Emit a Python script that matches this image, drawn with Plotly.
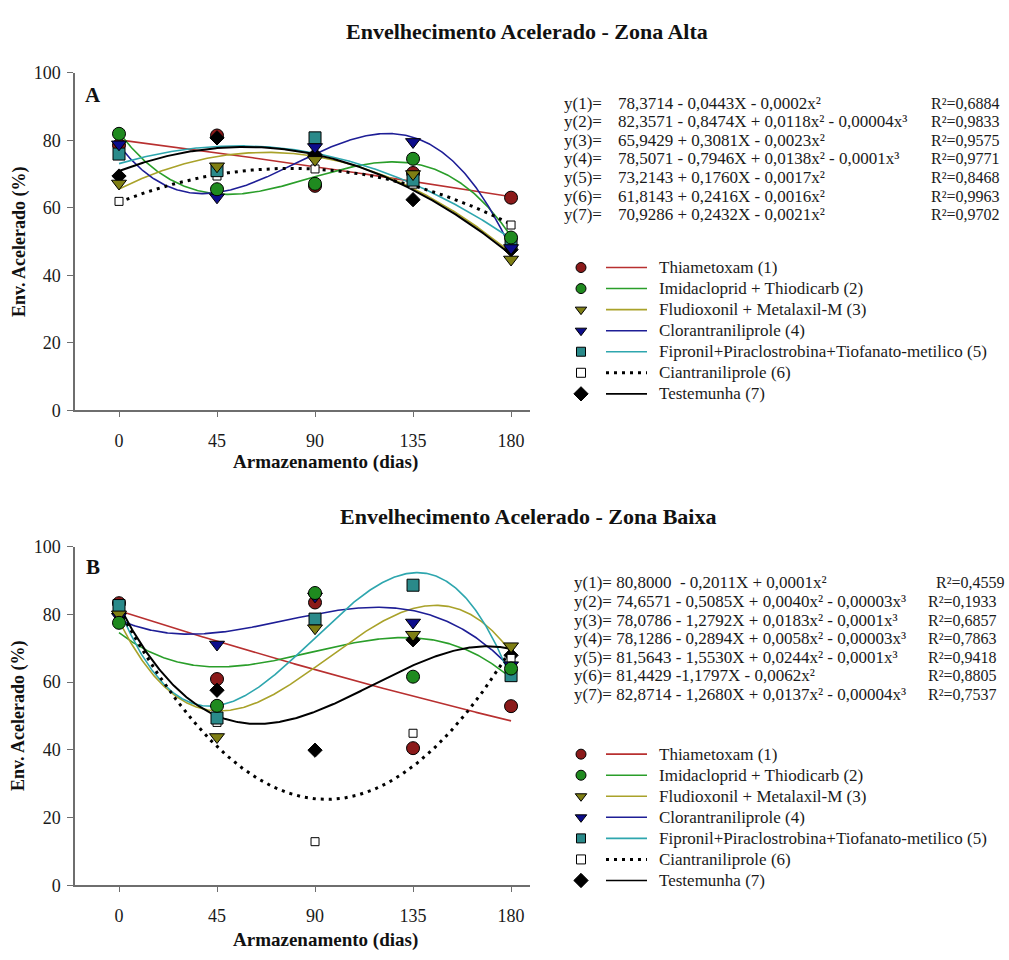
import numpy as np
import plotly.graph_objects as go

W, H = 1009, 960
FONT = "Liberation Serif"

# ---------------- data ----------------
X = [0, 45, 90, 135, 180]
x_ticks = [0, 45, 90, 135, 180]
y_ticks = [0, 20, 40, 60, 80, 100]

names = [
    "Thiametoxam (1)",
    "Imidacloprid + Thiodicarb (2)",
    "Fludioxonil + Metalaxil-M (3)",
    "Clorantraniliprole (4)",
    "Fipronil+Piraclostrobina+Tiofanato-metilico (5)",
    "Ciantraniliprole (6)",
    "Testemunha (7)",
]

# Zona Alta (A)
A1 = [78.5, 81.4, 66.5, 70.3, 63.0]
A2 = [81.9, 65.5, 67.1, 74.5, 51.2]
A3 = [67.2, 72.3, 74.2, 70.0, 44.7]
A4 = [78.8, 63.1, 78.0, 79.5, 48.1]
A5 = [75.9, 71.0, 80.7, 68.2, 49.6]
A6 = [61.9, 69.4, 71.5, 67.0, 54.9]
A7 = [69.4, 80.7, 75.7, 62.4, 47.6]
deg_A = [2, 3, 2, 3, 2, 2, 2]

# Zona Baixa (B)
B1 = [83.3, 60.9, 83.5, 40.5, 52.9]
B2 = [77.5, 53.0, 86.3, 61.6, 64.0]
B3 = [80.0, 43.8, 75.9, 74.0, 70.6]
B4 = [79.3, 71.1, 85.3, 77.6, 65.0]
B5 = [82.6, 49.4, 78.6, 88.6, 61.9]
B6 = [80.0, 48.1, 12.9, 44.9, 67.0]
B7 = [80.7, 57.6, 39.9, 72.5, 67.9]
deg_B = [2, 3, 3, 3, 3, 2, 3]

eq_A_lbl = ["y(1)=", "y(2)=", "y(3)=", "y(4)=", "y(5)=", "y(6)=", "y(7)="]
eq_A = [
    "78,3714 - 0,0443X - 0,0002x²",
    "82,3571 - 0,8474X + 0,0118x² - 0,00004x³",
    "65,9429 + 0,3081X - 0,0023x²",
    "78,5071 - 0,7946X + 0,0138x² - 0,0001x³",
    "73,2143 + 0,1760X - 0,0017x²",
    "61,8143 + 0,2416X - 0,0016x²",
    "70,9286 + 0,2432X - 0,0021x²",
]
r2_A = ["R²=0,6884", "R²=0,9833", "R²=0,9575", "R²=0,9771", "R²=0,8468", "R²=0,9963", "R²=0,9702"]

eq_B = [
    "y(1)= 80,8000\u00a0 - 0,2011X + 0,0001x²",
    "y(2)= 74,6571 - 0,5085X + 0,0040x² - 0,00003x³",
    "y(3)= 78,0786 - 1,2792X + 0,0183x² - 0,0001x³",
    "y(4)= 78,1286 - 0,2894X + 0,0058x² - 0,00003x³",
    "y(5)= 81,5643 - 1,5530X + 0,0244x² - 0,0001x³",
    "y(6)= 81,4429 -1,1797X - 0,0062x²",
    "y(7)= 82,8714 - 1,2680X + 0,0137x² - 0,00004x³",
]
r2_B = ["R²=0,4559", "R²=0,1933", "R²=0,6857", "R²=0,7863", "R²=0,9418", "R²=0,8805", "R²=0,7537"]

# ---------------- styles ----------------
fills = ["#8B1A1A", "#1F8A1F", "#7F7F14", "#0D0D8C", "#2A8A8A", "#FFFFFF", "#000000"]
lcols = ["#B83030", "#2A9E2A", "#A9A22A", "#1E1E96", "#2EA6AE", "#000000", "#000000"]
symbols = ["circle", "circle", "triangle-down", "triangle-down", "square", "square", "diamond"]
msize = [13, 13, 13, 13, 12, 8, 11]
lg_msize = [10, 10, 10, 10, 9, 9, 11]
draw_order = [0, 6, 5, 4, 3, 2, 1]

fig = go.Figure()

panels = [
    ("x", "y", [A1, A2, A3, A4, A5, A6, A7], deg_A),
    ("x2", "y2", [B1, B2, B3, B4, B5, B6, B7], deg_B),
]
xs = np.linspace(0, 180, 361)
for xa, ya, vals, degs in panels:
    for i, (v, d) in enumerate(zip(vals, degs)):
        coef = np.polyfit(X, v, d)
        ys = np.polyval(coef, xs)
        dash = "3px,5px" if i == 5 else "solid"
        width = 3 if i == 5 else (2 if i == 6 else 1.6)
        fig.add_trace(go.Scatter(x=xs, y=ys, mode="lines", xaxis=xa, yaxis=ya,
                                 line=dict(color=lcols[i], width=width, dash=dash),
                                 showlegend=False, hoverinfo="skip"))
    for i in draw_order:
        fig.add_trace(go.Scatter(x=X, y=vals[i], mode="markers", xaxis=xa, yaxis=ya,
                                 marker=dict(symbol=symbols[i], size=msize[i], color=fills[i],
                                             line=dict(color="#000000", width=1)),
                                 showlegend=False, name=names[i]))

# ---------------- legend glyphs (overlay pixel axis) ----------------
leg_rows = {"A": [263, 284.5, 306, 327.5, 349, 370.5, 392], "B": [760, 781.5, 803, 824.5, 846, 867.5, 889]}
shapes = []
annotations = []
for key, rows in leg_rows.items():
    for i, ry in enumerate(rows):
        fig.add_trace(go.Scatter(x=[581], y=[ry], mode="markers", xaxis="x3", yaxis="y3",
                                 marker=dict(symbol=symbols[i], size=lg_msize[i], color=fills[i],
                                             line=dict(color="#000000", width=1)),
                                 showlegend=False, hoverinfo="skip"))
        shapes.append(dict(type="line", xref="paper", yref="paper",
                           x0=606 / W, x1=647 / W, y0=1 - ry / H, y1=1 - ry / H,
                           line=dict(color=lcols[i], width=3 if i == 5 else 1.6,
                                     dash="3px,5px" if i == 5 else "solid")))
        annotations.append(dict(text=names[i], x=657 / W, y=1 - ry / H, xref="paper", yref="paper",
                                xanchor="left", yanchor="middle", showarrow=False,
                                font=dict(family=FONT, size=17, color="#1a1a1a")))

# ---------------- equations ----------------
eqA_rows = [95, 114, 133, 152, 171, 190, 209]
for i, ry in enumerate(eqA_rows):
    for txt_, px, fs in ((eq_A_lbl[i], 562, 17), (eq_A[i], 616, 17), (r2_A[i], 929, 16)):
        annotations.append(dict(text=txt_, x=px / W, y=1 - ry / H, xref="paper", yref="paper",
                                xanchor="left", yanchor="middle", showarrow=False,
                                font=dict(family=FONT, size=fs, color="#1a1a1a")))
eqB_rows = [585, 604, 623, 642, 661, 680, 699]
for i, ry in enumerate(eqB_rows):
    annotations.append(dict(text=eq_B[i], x=572 / W, y=1 - ry / H, xref="paper", yref="paper",
                            xanchor="left", yanchor="middle", showarrow=False,
                            font=dict(family=FONT, size=17, color="#1a1a1a")))
    annotations.append(dict(text=r2_B[i], x=(934 if i == 0 else 926) / W, y=1 - ry / H,
                            xref="paper", yref="paper", xanchor="left", yanchor="middle",
                            showarrow=False, font=dict(family=FONT, size=16, color="#1a1a1a")))

# ---------------- titles ----------------
def txt(t, px, py, size, angle=0):
    annotations.append(dict(text=t, x=px / W, y=1 - py / H, xref="paper", yref="paper",
                            xanchor="center", yanchor="middle", showarrow=False, textangle=angle,
                            font=dict(family=FONT, size=size, color="#111111")))

txt("<b>Envelhecimento Acelerado - Zona Alta</b>", 527, 22, 22)
txt("<b>Envelhecimento Acelerado - Zona Baixa</b>", 528, 517, 22)
txt("<b>Env. Acelerado (%)</b>", 19, 237, 18, -90)
txt("<b>Env. Acelerado (%)</b>", 19, 721, 18, -90)
txt("<b>Armazenamento (dias)</b>", 325, 462, 19)
txt("<b>Armazenamento (dias)</b>", 325, 950, 19)
txt("<b>A</b>", 93, 87, 21)
txt("<b>B</b>", 93, 569, 21)

# ---------------- axes ----------------
axcol = "#6e6e6e"
xdom = [75 / W, 530 / W]
xcommon = dict(domain=xdom, range=[-20.2, 188.7], tickvals=x_ticks, showline=True, linecolor=axcol,
               linewidth=1.5, ticks="outside", ticklen=5, tickcolor=axcol, showgrid=False,
               zeroline=False, tickfont=dict(family=FONT, size=18, color="#1a1a1a"),
               ticklabelstandoff=8, fixedrange=True)
ycommon = dict(range=[0, 100], tickvals=y_ticks, showline=True, linecolor=axcol, linewidth=1.5,
               ticks="outside", ticklen=6, tickcolor=axcol, showgrid=False, zeroline=False,
               tickfont=dict(family=FONT, size=18, color="#1a1a1a"), ticklabelstandoff=3,
               fixedrange=True)

fig.update_layout(
    width=W, height=H, margin=dict(l=0, r=0, t=0, b=0),
    paper_bgcolor="white", plot_bgcolor="rgba(0,0,0,0)",
    showlegend=False,
    xaxis=dict(anchor="y", **xcommon),
    yaxis=dict(anchor="x", domain=[1 - 409 / H, 1 - 64 / H], **ycommon),
    xaxis2=dict(anchor="y2", **xcommon),
    yaxis2=dict(anchor="x2", domain=[1 - 894 / H, 1 - 548 / H], **ycommon),
    xaxis3=dict(domain=[0, 1], range=[0, W], visible=False, anchor="y3", fixedrange=True),
    yaxis3=dict(domain=[0, 1], range=[H, 0], visible=False, anchor="x3", fixedrange=True),
    shapes=shapes,
    annotations=annotations,
)

fig.write_html("out.html")
